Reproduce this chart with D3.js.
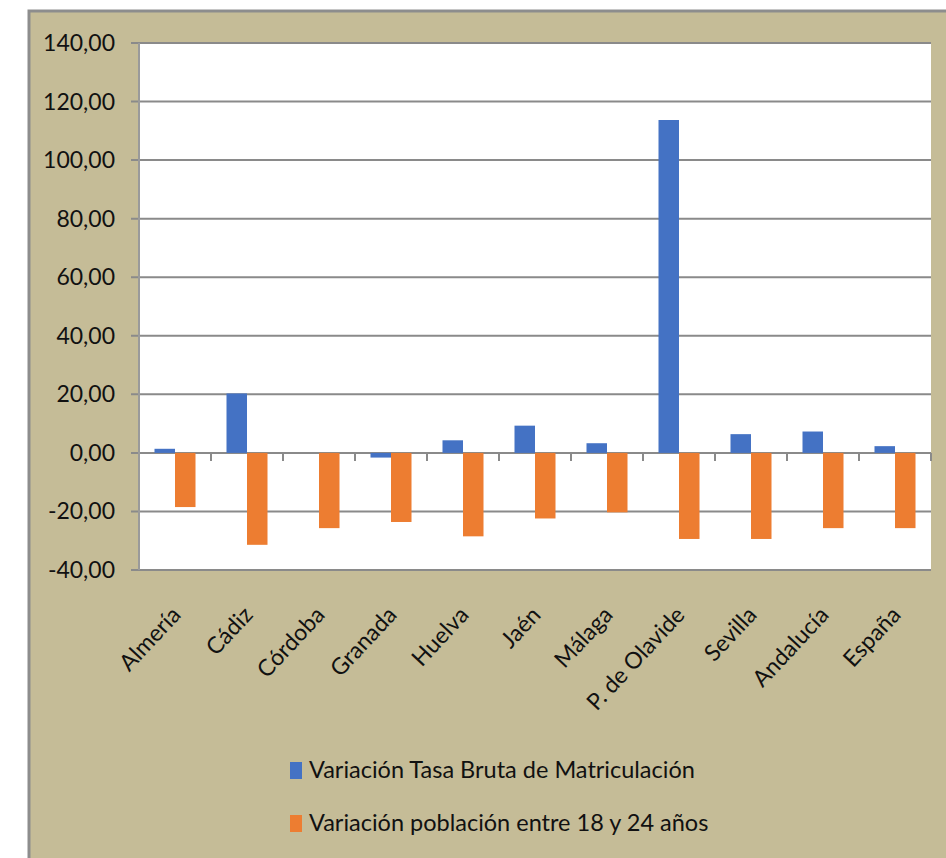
<!DOCTYPE html>
<html>
<head>
<meta charset="utf-8">
<script src="https://cdn.jsdelivr.net/npm/d3@7"></script>
<style>
  body { margin: 0; background: #fff; }
  svg { display: block; }
  text { font-family: Lato, "Open Sans", sans-serif; fill: #111; }
</style>
</head>
<body>
<svg id="chart"></svg>
<script>
var width = 946; // page width
var height = 858; // page height

// Categories (x axis)
var categories = ["Almería", "Cádiz", "Córdoba", "Granada", "Huelva", "Jaén",
    "Málaga", "P. de Olavide", "Sevilla", "Andalucía", "España"];

// Series values
var tasaBruta = [1.4, 20.3, 0, -1.6, 4.3, 9.3, 3.3, 113.7, 6.4, 7.3, 2.3];
var poblacion = [-18.5, -31.4, -25.7, -23.6, -28.5, -22.4, -20.3, -29.4, -29.4, -25.7, -25.7];

var seriesNames = ["Variación Tasa Bruta de Matriculación", "Variación población entre 18 y 24 años"];
var seriesColors = ["#4472c4", "#ed7d31"];

// Y tick values
var yTicks = [140, 120, 100, 80, 60, 40, 20, 0, -20, -40];

var plot = { left: 139, right: 931, top: 43, bottom: 570 };

var svg = d3.select("#chart")
    .attr("width", width)
    .attr("height", height);

// Tan panel with gray border
svg.append("rect")
    .attr("x", 29).attr("y", 11)
    .attr("width", 940).attr("height", 870)
    .attr("fill", "#c5bc97")
    .attr("stroke", "#8d8d8d")
    .attr("stroke-width", 3);

// White plot area
svg.append("rect")
    .attr("x", plot.left).attr("y", plot.top)
    .attr("width", plot.right - plot.left).attr("height", plot.bottom - plot.top)
    .attr("fill", "#fff");

var x = d3.scaleBand()
    .domain(categories)
    .range([plot.left, plot.right])
    .paddingInner(0)
    .paddingOuter(0);

var y = d3.scaleLinear()
    .domain([-40, 140])
    .range([plot.bottom, plot.top]);

// Gridlines
svg.append("g")
    .selectAll("line")
    .data(yTicks)
    .enter().append("line")
    .attr("x1", plot.left - 8)
    .attr("x2", plot.right)
    .attr("y1", function (d) { return y(d); })
    .attr("y2", function (d) { return y(d); })
    .attr("stroke", "#8a8a8a")
    .attr("stroke-width", 2);

// Left axis line
svg.append("line")
    .attr("x1", plot.left).attr("x2", plot.left)
    .attr("y1", plot.top).attr("y2", plot.bottom)
    .attr("stroke", "#9a9a9a")
    .attr("stroke-width", 2);

// Y tick labels
svg.append("g")
    .selectAll("text")
    .data(yTicks)
    .enter().append("text")
    .attr("x", plot.left - 24)
    .attr("y", function (d) { return y(d); })
    .attr("dy", "0.35em")
    .attr("text-anchor", "end")
    .style("font-size", "23px")
    .text(function (d) { return d3.format(".2f")(d).replace(".", ",").replace("−", "-"); });

// Bars
var groupW = 41;
var barW = groupW / 2;
var seriesData = [tasaBruta, poblacion];

seriesData.forEach(function (vals, s) {
    svg.append("g")
        .selectAll("rect")
        .data(vals)
        .enter().append("rect")
        .attr("x", function (d, i) { return x(categories[i]) + x.bandwidth() / 2 - groupW / 2 + s * barW; })
        .attr("y", function (d) { return y(Math.max(0, d)); })
        .attr("width", barW)
        .attr("height", function (d) { return Math.abs(y(d) - y(0)); })
        .attr("fill", seriesColors[s]);
});

// Category tick marks on zero line
svg.append("g")
    .selectAll("line")
    .data(categories.slice(1).concat(["end"]))
    .enter().append("line")
    .attr("x1", function (d, i) { return plot.left + (i + 1) * x.bandwidth(); })
    .attr("x2", function (d, i) { return plot.left + (i + 1) * x.bandwidth(); })
    .attr("y1", y(0))
    .attr("y2", y(0) + 8)
    .attr("stroke", "#8a8a8a")
    .attr("stroke-width", 2);

// Category labels, rotated
svg.append("g")
    .selectAll("text")
    .data(categories)
    .enter().append("text")
    .attr("transform", function (d) {
        return "translate(" + (x(d) + x.bandwidth() / 2 + 7) + "," + 616 + ") rotate(-47)";
    })
    .attr("text-anchor", "end")
    .style("font-size", "23px")
    .text(function (d) { return d; });

// Legend
var legend = svg.append("g")
    .selectAll("g")
    .data(seriesNames)
    .enter().append("g")
    .attr("transform", function (d, i) { return "translate(290," + (762 + i * 53) + ")"; });

legend.append("rect")
    .attr("width", 12)
    .attr("height", 17)
    .attr("fill", function (d, i) { return seriesColors[i]; });

legend.append("text")
    .attr("x", 19)
    .attr("y", 16)
    .style("font-size", "23.5px")
    .text(function (d) { return d; });
</script>
</body>
</html>
